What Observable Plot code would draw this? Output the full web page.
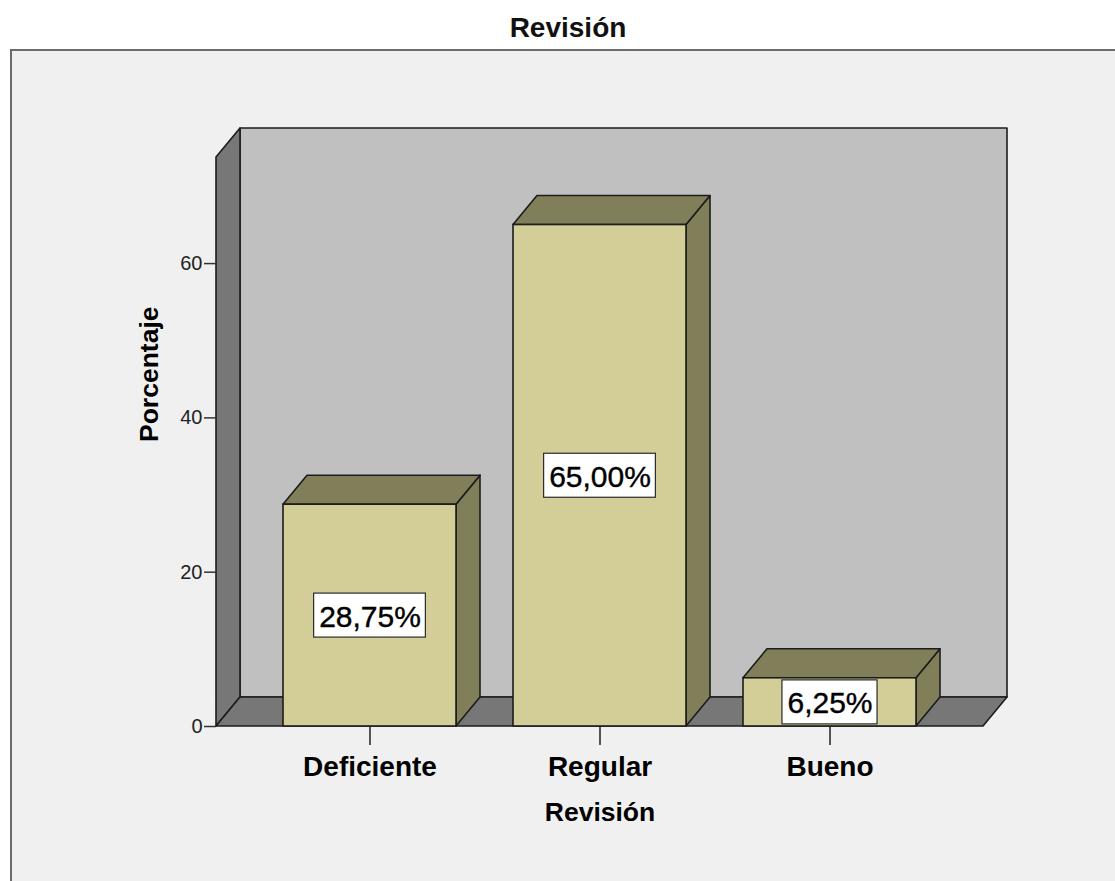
<!DOCTYPE html>
<html>
<head>
<meta charset="utf-8">
<script src="https://cdn.jsdelivr.net/npm/d3@7"></script>
<script src="https://cdn.jsdelivr.net/npm/@observablehq/plot@0.6"></script>
<style>
  html, body { margin: 0; padding: 0; background: #ffffff; overflow: hidden; }
  body { font-family: "Liberation Sans", Arial, sans-serif; width: 1115px; height: 881px; }
  #titulo {
    position: relative; height: 49px; width: 1115px; box-sizing: border-box;
  }
  #titulo span {
    position: absolute; left: 21px; right: 0; top: 14px; text-align: center;
    font-size: 28px; line-height: 28px; font-weight: bold; color: #111;
  }
  #grafico svg {
    display: block; margin-left: 10px;
    border-left: 2px solid #6b6b6b; border-top: 2px solid #6b6b6b;
  }
</style>
</head>
<body>
<div id="titulo"><span>Revisión</span></div>
<div id="grafico"></div>
<script>
// Frecuencias porcentuales de la variable "Revisión"
const categorias = ["Deficiente", "Regular", "Bueno"];
const porcentajes = [28.75, 65.00, 6.25];
const ticksY = [0, 20, 40, 60];
const maxY = 73.75; // altura de las paredes del gráfico

const datos = categorias.map((c, i) => ({categoria: c, porcentaje: porcentajes[i]}));

// Desplazamiento de profundidad (perspectiva 3D)
const DX = 24, DY = -29;
const BORDE = "#1c1c1c";
const fmt = v => v.toFixed(2).replace(".", ",") + "%";

const pts = arr => arr.map(p => p.join(",")).join(" ");

// Paredes y suelo de la caja 3D
function paredes(index, scales) {
  const [x0, x1] = scales.x.range();
  const y0 = scales.y(0), yT = scales.y(maxY);
  const g = d3.create("svg:g")
    .attr("stroke", BORDE).attr("stroke-width", 1.6).attr("stroke-linejoin", "round");
  g.append("polygon").attr("fill", "#c0c0c0")
    .attr("points", pts([[x0 + DX, yT + DY], [x1 + DX, yT + DY], [x1 + DX, y0 + DY], [x0 + DX, y0 + DY]]));
  g.append("polygon").attr("fill", "#777777")
    .attr("points", pts([[x0, y0], [x0, yT], [x0 + DX, yT + DY], [x0 + DX, y0 + DY]]));
  g.append("polygon").attr("fill", "#777777")
    .attr("points", pts([[x0, y0], [x1, y0], [x1 + DX, y0 + DY], [x0 + DX, y0 + DY]]));
  return g.node();
}

// Caras superior y lateral de cada barra
function carasBarras(index, scales) {
  const x = scales.x, y = scales.y;
  const bw = typeof x.bandwidth === "function" ? x.bandwidth() : scales.scales.x.bandwidth;
  const g = d3.create("svg:g")
    .attr("stroke", BORDE).attr("stroke-width", 1.6).attr("stroke-linejoin", "round")
    .attr("fill", "#807f5a");
  for (const d of datos) {
    const xl = x(d.categoria), xr = xl + bw;
    const yt = y(d.porcentaje), yb = y(0);
    g.append("polygon")
      .attr("points", pts([[xr, yb], [xr, yt], [xr + DX, yt + DY], [xr + DX, yb + DY]]));
    g.append("polygon")
      .attr("points", pts([[xl, yt], [xr, yt], [xr + DX, yt + DY], [xl + DX, yt + DY]]));
  }
  return g.node();
}

// Recuadros blancos detrás de las etiquetas de valor
const ctx = document.createElement("canvas").getContext("2d");
ctx.font = "30px 'Liberation Sans', Arial, sans-serif";
function recuadros(index, scales) {
  const x = scales.x, y = scales.y;
  const bw = typeof x.bandwidth === "function" ? x.bandwidth() : scales.scales.x.bandwidth;
  const g = d3.create("svg:g").attr("fill", "#ffffff").attr("stroke", "#2a2a2a").attr("stroke-width", 1.2);
  for (const d of datos) {
    const w = ctx.measureText(fmt(d.porcentaje)).width + 10;
    const cx = x(d.categoria) + bw / 2, cy = y(d.porcentaje / 2);
    g.append("rect").attr("x", cx - w / 2).attr("y", cy - 22).attr("width", w).attr("height", 44);
  }
  return g.node();
}

const chart = Plot.plot({
  width: 1103,
  height: 830,
  marginLeft: 204,
  marginRight: 132,
  marginTop: 106,
  marginBottom: 155,
  style: {background: "#f0f0f0", fontFamily: "'Liberation Sans', Arial, sans-serif", overflow: "visible", color: "#111"},
  x: {domain: categorias, paddingInner: 0.248, paddingOuter: 0.291, align: 0.5, label: null},
  y: {domain: [0, maxY], label: null},
  marks: [
    paredes,
    carasBarras,
    Plot.barY(datos, {x: "categoria", y: "porcentaje", fill: "#d3ce98", stroke: BORDE, strokeWidth: 1.6}),
    recuadros,
    Plot.text(datos, {
      x: "categoria", y: d => d.porcentaje / 2, text: d => fmt(d.porcentaje),
      fontSize: 30, fill: "#000", stroke: "#000", strokeWidth: 0.4, dy: 1.5
    }),
    Plot.axisY({ticks: ticksY, tickSize: 12, tickPadding: 2, fontSize: 20, stroke: "#333", strokeWidth: 1.5, fill: "#222", label: null}),
    Plot.axisX({tickSize: 19, tickPadding: 11, fontSize: 28, fontWeight: "bold", stroke: "#222", strokeWidth: 1.5, fill: "#000", label: null}),
    Plot.text(["Porcentaje"], {frameAnchor: "left", dx: -67, rotate: -90, fontSize: 26.5, fontWeight: "bold", fill: "#000"}),
    Plot.text(["Revisión"], {frameAnchor: "bottom", dy: 94, fontSize: 26.5, fontWeight: "bold", fill: "#000"})
  ]
});

document.getElementById("grafico").appendChild(chart);
</script>
</body>
</html>
